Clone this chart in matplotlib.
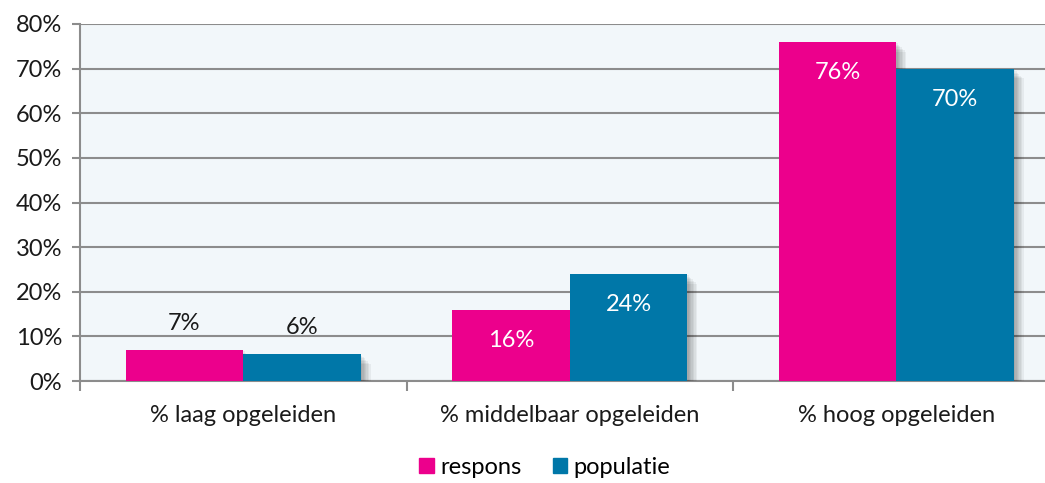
import matplotlib
matplotlib.use("Agg")
import matplotlib.pyplot as plt
import matplotlib.patheffects as pe
from matplotlib.patches import Patch
import numpy as np

categories = ["% laag opgeleiden", "% middelbaar opgeleiden", "% hoog opgeleiden"]
respons = [7, 16, 76]
populatie = [6, 24, 70]
series_names = ["respons", "populatie"]
yticks = [0, 10, 20, 30, 40, 50, 60, 70, 80]

pink = "#ec008c"
blue = "#0077a8"
grid = "#8c8c8c"
fs = 17

plt.rcParams["font.family"] = ["Lato", "DejaVu Sans"]

W, H = 1045, 483
fig = plt.figure(figsize=(W / 100, H / 100), dpi=100)
# plot area runs past the right edge of the picture, like the original crop
ax = fig.add_axes([80 / W, 1 - 381 / H, (1059.5 - 80) / W, (381 - 24) / H])
ax.set_facecolor("#f2f7fa")

x = np.arange(len(categories))
bw = 0.36

# soft shadow built from a few stacked offset copies
shadow = [pe.SimplePatchShadow(offset=(o, -o), shadow_rgbFace="#000000", alpha=0.05)
          for o in (1, 2, 3, 4, 5, 6, 7)] + [pe.Normal()]

b1 = ax.bar(x - bw / 2, respons, bw, color=pink, zorder=3, path_effects=shadow)
b2 = ax.bar(x + bw / 2, populatie, bw, color=blue, zorder=3, path_effects=shadow)

for bars in (b1, b2):
    for rect in bars:
        v = rect.get_height()
        cx = rect.get_x() + rect.get_width() / 2
        if v < 10:
            ax.annotate(f"{v:.0f}%", (cx, v), xytext=(0, 19), textcoords="offset points",
                        ha="center", va="center", fontsize=fs, color="#1a1a1a", zorder=5)
        else:
            ax.annotate(f"{v:.0f}%", (cx, v), xytext=(0, -22), textcoords="offset points",
                        ha="center", va="center", fontsize=fs, color="white", zorder=5)

ax.set_xlim(-0.5, len(categories) - 0.5)
ax.set_ylim(0, 80)
ax.set_yticks(yticks)
ax.set_yticklabels([f"{t}%" for t in yticks])
ax.yaxis.grid(True, color=grid, linewidth=1.5, zorder=1)
ax.set_axisbelow(True)

ax.set_xticks(x)
ax.set_xticklabels(categories)
ax.set_xticks(np.arange(len(categories) + 1) - 0.5, minor=True)
ax.tick_params(axis="x", which="major", length=0, pad=17, labelsize=fs, colors="#1a1a1a")
ax.tick_params(axis="x", which="minor", length=7, width=1.5, color=grid)
ax.tick_params(axis="y", length=6, width=1.5, color=grid, pad=7, labelsize=fs, labelcolor="#1a1a1a")

for s in ("top", "right"):
    ax.spines[s].set_visible(False)
for s in ("left", "bottom"):
    ax.spines[s].set_color(grid)
    ax.spines[s].set_linewidth(1.5)

handles = [Patch(color=pink), Patch(color=blue)]
fig.legend(handles=handles, labels=series_names, loc="center", bbox_to_anchor=(545 / W, 1 - 467 / H),
           ncol=2, frameon=False, fontsize=fs, handlelength=0.6, handleheight=0.6,
           handletextpad=0.3, columnspacing=1.3, borderpad=0)

fig.savefig("out.png", dpi=100)
